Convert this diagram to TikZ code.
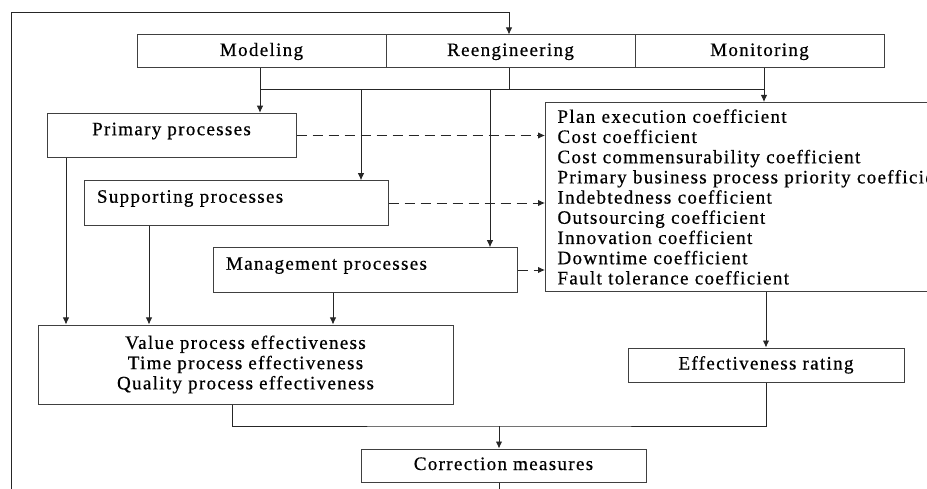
\documentclass[tikz,border=0pt]{standalone}
\usepackage{fontspec}
\setmainfont{Liberation Serif}[LetterSpace=7.0, FakeBold=0.6]
\usetikzlibrary{arrows.meta,calc}

\begin{document}
\begin{tikzpicture}[x=1pt, y=-1pt,
        font=\fontsize{19}{20.2}\selectfont,
        basebox/.style={draw=black!75, line width=1pt, rectangle, inner sep=0pt},
        onebox/.style={basebox, text height=13pt, text depth=4pt},
        topcell/.style={onebox, minimum width=249pt, minimum height=33pt},
        procbox/.style={basebox, text height=22pt, text depth=22.5pt},
        leftproc/.style={procbox, text width=#1, align=left, inner xsep=13pt},
        line/.style={line width=0.9pt, black!85},
        arr/.style={line, -{Latex[length=7pt,width=6.5pt]}},
        dasharr/.style={arr, dash pattern=on 10pt off 6pt}]

        \useasboundingbox (0,0) rectangle (927,489);
        \clip (0,0) rectangle (927,489);

        % Top row
        \node[topcell] (modeling) at (261.5,51.5) {Modeling};
        \node[topcell] (reeng)    at (510.5,51.5) {Reengineering};
        \node[topcell] (monitor)  at (759.5,51.5) {Monitoring};

        % Process boxes
        \node[procbox, minimum width=249pt] (prim) at (171.5,135.5) {Primary processes};
        \node[leftproc=278pt] (supp) at (236,203) {Supporting processes};
        \node[leftproc=278pt] (mgmt) at (365,270) {Management processes};

        % Coefficients (runs past the right edge)
        \node[basebox, anchor=north west, minimum height=189pt,
              text width=400pt, align=left, inner xsep=12pt] (coef) at (545,102)
             {Plan execution coefficient\\
              Cost coefficient\\
              Cost commensurability coefficient\\
              Primary business process priority coefficient\\
              Indebtedness coefficient\\
              Outsourcing coefficient\\
              Innovation coefficient\\
              Downtime coefficient\\
              Fault tolerance coefficient};

        % Results
        \node[basebox, minimum width=415pt, minimum height=79pt, align=center] (value) at (245.5,364.5)
             {Value process effectiveness\\
              Time process effectiveness\\
              Quality process effectiveness};
        \node[onebox, minimum width=276pt, minimum height=34pt] (eff) at (766,365) {Effectiveness rating};
        \node[onebox, minimum width=285pt, minimum height=33pt] (corr) at (503.5,465.5) {Correction measures};

        % Tap points
        \coordinate (tapM) at (260,89.5);
        \coordinate (tapS) at (361,89.5);
        \coordinate (tapG) at (490,89.5);
        \coordinate (tapR) at (509,89.5);
        \coordinate (tapN) at (764,89.5);
        \coordinate (dropP) at (66,0);
        \coordinate (dropS) at (149,0);
        \coordinate (dropG) at (333,0);
        \coordinate (vdrop) at (232,0);
        \coordinate (join) at (499,426);
        \coordinate (loopB) at (11,500);
        \coordinate (loopT) at (11,12);

        % Bus under the top row
        \draw[line] (tapR |- reeng.south) -- (tapR);
        \draw[line] (tapM) -- (tapN);
        \draw[arr] (tapM |- modeling.south) -- (tapM |- prim.north);
        \draw[arr] (tapS) -- (tapS |- supp.north);
        \draw[arr] (tapG) -- (tapG |- mgmt.north);
        \draw[arr] (tapN |- monitor.south) -- (tapN |- coef.north);

        % Dashed links to the coefficients
        \foreach \p in {prim, supp, mgmt}
            \draw[dasharr] (\p.east) -- (\p.east -| coef.west);

        % Down to the effectiveness boxes
        \foreach \p/\d in {prim/dropP, supp/dropS, mgmt/dropG}
            \draw[arr] (\p.south -| \d) -- (\d |- value.north);
        \draw[arr] (eff.north |- coef.south) -- (eff.north);

        % Join and feedback loop
        \draw[line] (value.south -| vdrop) |- (join) -| (eff.south);
        \draw[arr] (join) -- (join |- corr.north);
        \draw[arr] (join |- corr.south) -- (join |- loopB) -- (loopB) -- (loopT) -| (tapR |- reeng.north);

\end{tikzpicture}
\end{document}
